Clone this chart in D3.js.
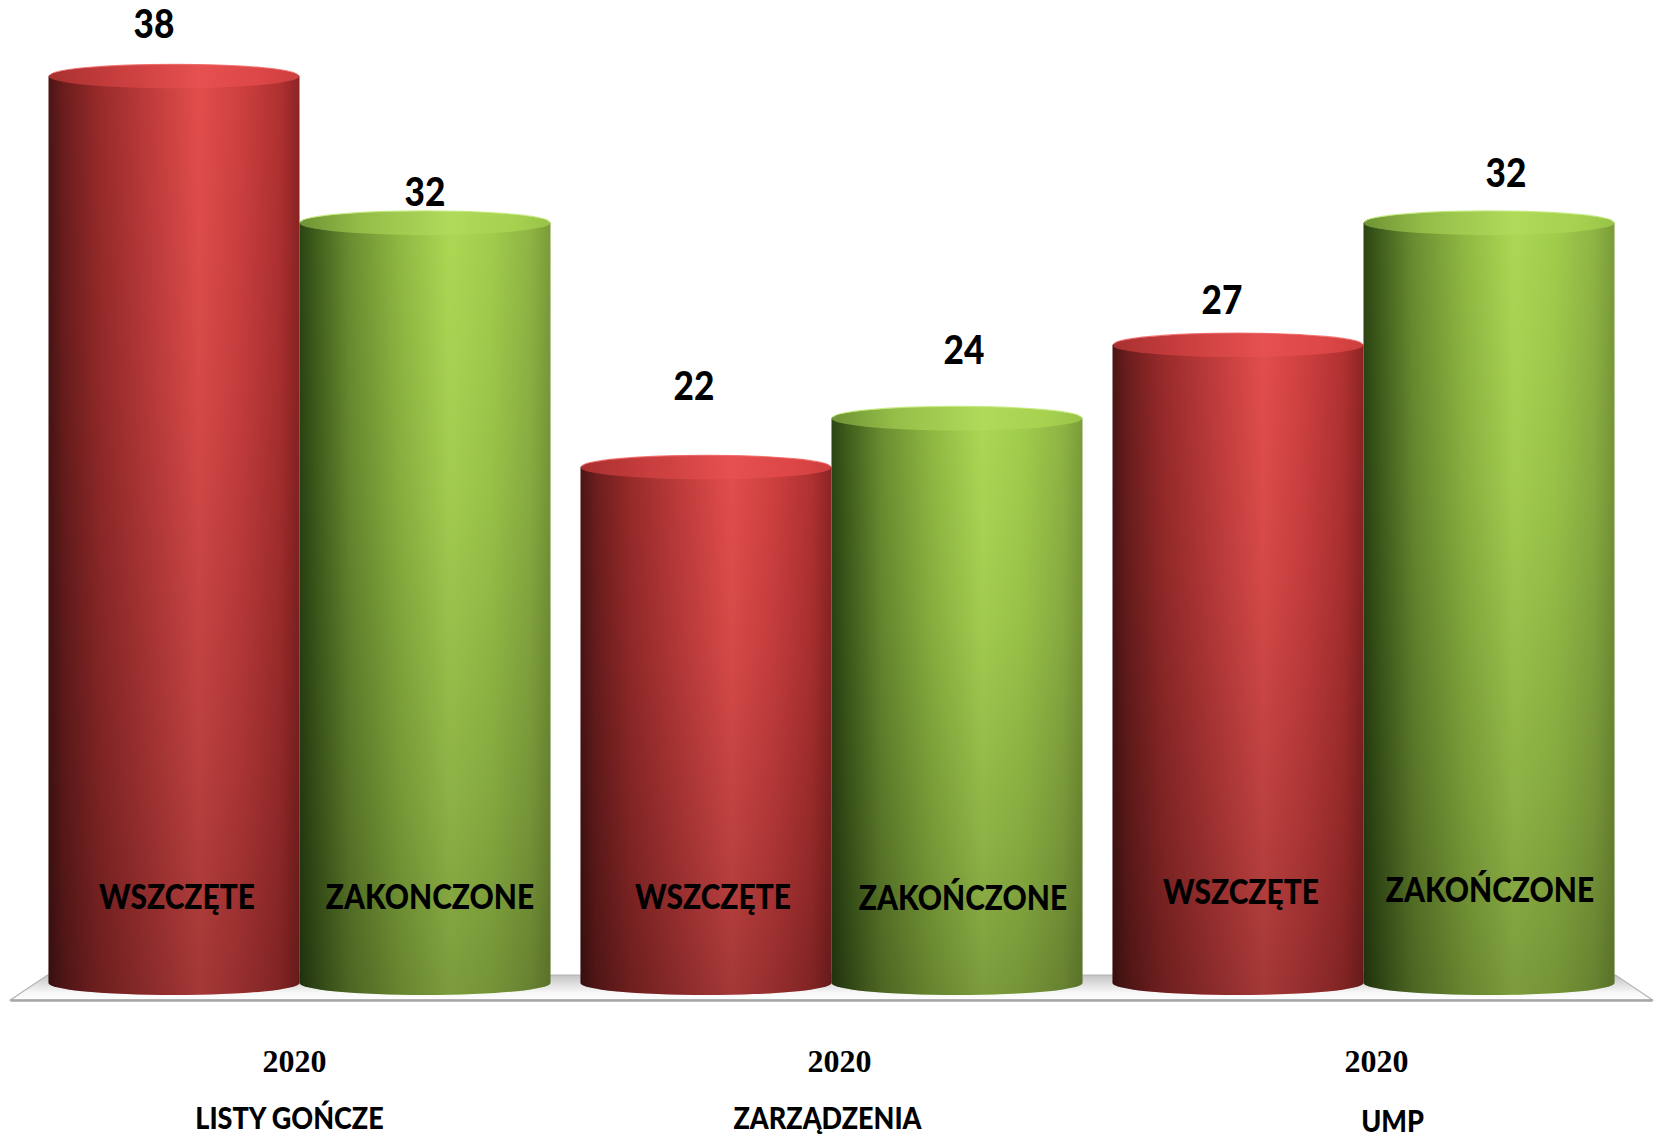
<!DOCTYPE html>
<html lang="pl">
<head>
<meta charset="utf-8">
<title>Postępowania 2020</title>
<script src="https://cdn.jsdelivr.net/npm/d3@7"></script>
<style>
  html, body { margin: 0; padding: 0; background: #ffffff; }
  svg { display: block; }
</style>
</head>
<body>
<svg id="chart" width="1654" height="1139"></svg>
<script>
// ---- data ----
const categories = ["LISTY GOŃCZE", "ZARZĄDZENIA", "UMP"];
const years = ["2020", "2020", "2020"];
const series = ["wszczete", "zakonczone"];
const wszczete = [38, 22, 27];
const zakonczone = [32, 24, 32];
const barNames = [
  ["WSZCZĘTE", "ZAKONCZONE"],
  ["WSZCZĘTE", "ZAKOŃCZONE"],
  ["WSZCZĘTE", "ZAKOŃCZONE"]
];

// ---- layout ----
const W = 1654, H = 1139;
const floorY = 983;          // centre line of the cylinder bases
const capRy = 12;            // vertical radius of the elliptical caps
// hand-placed offsets of the value labels, [dx, lift above the cap]
const valueNudge = [
  [[-20, 38], [0, 17]],
  [[-12, 67], [7, 54]],
  [[-16, 31], [17, 36]]
];
const innerBaseline = [[909, 909], [909, 910], [904, 902]];
const innerDx = [[3, 5], [7, 6], [3, 1]];
const yearDx = [-5, 8, 13];
const catDx = [-10, -4, 29];
const sansBold = "Lato, 'Open Sans', sans-serif";

const svg = d3.select("#chart");
const defs = svg.append("defs");

const x0 = d3.scaleBand().domain(categories).range([48.5, 1614.5])
  .paddingInner(0.0564).paddingOuter(0);
const x1 = d3.scaleBand().domain(series).range([0, x0.bandwidth()]).padding(0);
const y = d3.scaleLinear().domain([0, 40]).range([1005, 27.4]);

// ---- gradients ----
function hGrad(id, stops) {
  const g = defs.append("linearGradient").attr("id", id)
    .attr("x1", "0%").attr("x2", "100%").attr("y1", "0%").attr("y2", "0%");
  stops.forEach(([o, c]) => g.append("stop").attr("offset", o).attr("stop-color", c));
}
hGrad("redSide", [
  [0, "#4a1414"], [0.06, "#6c1d1d"], [0.2, "#982a2a"], [0.4, "#bf3b3b"],
  [0.6, "#e24e4c"], [0.76, "#cf4040"], [0.92, "#b13131"], [1, "#8c2424"]
]);
hGrad("greenSide", [
  [0, "#2b4413"], [0.06, "#3e5c1b"], [0.2, "#6a8d30"], [0.4, "#8fb842"],
  [0.6, "#acd854"], [0.76, "#a1cd4c"], [0.92, "#8fb444"], [1, "#7a9b38"]
]);
hGrad("redCap", [
  [0, "#a83030"], [0.25, "#c63c3c"], [0.6, "#e65050"], [0.85, "#dc4646"], [1, "#cc3e3e"]
]);
hGrad("greenCap", [
  [0, "#6e9234"], [0.25, "#94be48"], [0.6, "#b0da5a"], [0.85, "#a6d250"], [1, "#98c248"]
]);
const shade = defs.append("linearGradient").attr("id", "shade")
  .attr("x1", "0%").attr("x2", "0%").attr("y1", "0%").attr("y2", "100%");
[[0, 0], [0.35, 0.06], [0.75, 0.18], [1, 0.28]].forEach(([o, a]) =>
  shade.append("stop").attr("offset", o).attr("stop-color", "#000").attr("stop-opacity", a));
const floorGrad = defs.append("linearGradient").attr("id", "floorGrad")
  .attr("x1", "0%").attr("x2", "0%").attr("y1", "0%").attr("y2", "100%");
[[0, "#c2c2c2"], [0.35, "#dedede"], [0.7, "#f7f7f7"], [1, "#ffffff"]].forEach(([o, c]) =>
  floorGrad.append("stop").attr("offset", o).attr("stop-color", c));

// ---- floor ----
const fx0 = x0.range()[0], fx1 = x0.range()[1];
svg.append("polygon")
  .attr("points", [[fx0 - 1, 975], [fx1 + 1, 975], [fx1 + 38, 1000], [fx0 - 38, 1000]].join(" "))
  .attr("fill", "url(#floorGrad)")
  .attr("stroke", "#b4b4b4").attr("stroke-width", 1.2);
svg.append("line")
  .attr("x1", fx0 - 38).attr("x2", fx1 + 38).attr("y1", 1000.5).attr("y2", 1000.5)
  .attr("stroke", "#a6a6a6").attr("stroke-width", 2.5);

// ---- cylinders ----
const rows = [];
categories.forEach((c, i) => {
  series.forEach((s, j) => {
    rows.push({
      cat: c, ser: s, gi: i, si: j,
      value: s === "wszczete" ? wszczete[i] : zakonczone[i],
      name: barNames[i][j]
    });
  });
});

const bars = svg.append("g").selectAll("g.bar").data(rows).join("g").attr("class", "bar");

function sidePath(d) {
  const xl = x0(d.cat) + x1(d.ser), w = x1.bandwidth(), xr = xl + w;
  const yt = y(d.value);
  return `M${xl},${yt} L${xl},${floorY} A${w / 2},${capRy} 0 0 0 ${xr},${floorY} L${xr},${yt} Z`;
}

bars.append("path").attr("d", sidePath)
  .attr("fill", d => d.ser === "wszczete" ? "url(#redSide)" : "url(#greenSide)");
bars.append("path").attr("d", sidePath).attr("fill", "url(#shade)");
bars.append("ellipse")
  .attr("cx", d => x0(d.cat) + x1(d.ser) + x1.bandwidth() / 2)
  .attr("cy", d => y(d.value))
  .attr("rx", x1.bandwidth() / 2)
  .attr("ry", capRy)
  .attr("fill", d => d.ser === "wszczete" ? "url(#redCap)" : "url(#greenCap)");
// thin bright rim along the back of each cap
bars.append("path")
  .attr("d", d => {
    const xl = x0(d.cat) + x1(d.ser), w = x1.bandwidth(), yt = y(d.value);
    return `M${xl + 2},${yt - 1} A${w / 2 - 2},${capRy - 1} 0 0 1 ${xl + w - 2},${yt - 1}`;
  })
  .attr("fill", "none")
  .attr("stroke", d => d.ser === "wszczete" ? "#f06060" : "#bfe872")
  .attr("stroke-width", 1.2)
  .attr("opacity", 0.8);

// names written across the cylinders
bars.append("text")
  .attr("transform", d => {
    const cx = x0(d.cat) + x1(d.ser) + x1.bandwidth() / 2 + innerDx[d.gi][d.si];
    return `translate(${cx},${innerBaseline[d.gi][d.si]}) scale(0.88,1)`;
  })
  .attr("text-anchor", "middle")
  .attr("font-family", sansBold)
  .attr("font-weight", 900)
  .attr("font-size", 34)
  .attr("fill", "#000")
  .text(d => d.name);

// value labels above the caps
bars.append("text")
  .attr("transform", d => {
    const n = valueNudge[d.gi][d.si];
    const cx = x0(d.cat) + x1(d.ser) + x1.bandwidth() / 2 + n[0];
    return `translate(${cx},${y(d.value) - n[1]}) scale(0.88,1)`;
  })
  .attr("text-anchor", "middle")
  .attr("font-family", sansBold)
  .attr("font-weight", 900)
  .attr("font-size", 40)
  .attr("fill", "#000")
  .text(d => d.value);

// ---- category axis ----
const axis = svg.append("g");
axis.selectAll("text.year").data(categories).join("text").attr("class", "year")
  .attr("x", (c, i) => x0(c) + x0.bandwidth() / 2 + yearDx[i])
  .attr("y", 1072)
  .attr("text-anchor", "middle")
  .attr("font-family", "'Liberation Serif', 'Times New Roman', serif")
  .attr("font-weight", 700)
  .attr("font-size", 32)
  .attr("fill", "#000")
  .text((c, i) => years[i]);

axis.selectAll("text.cat").data(categories).join("text").attr("class", "cat")
  .attr("transform", (c, i) =>
    `translate(${x0(c) + x0.bandwidth() / 2 + catDx[i]},${i === 2 ? 1132 : 1129}) scale(0.9,1)`)
  .attr("text-anchor", "middle")
  .attr("font-family", sansBold)
  .attr("font-weight", 900)
  .attr("font-size", 30)
  .attr("fill", "#000")
  .text(c => c);
</script>
</body>
</html>
